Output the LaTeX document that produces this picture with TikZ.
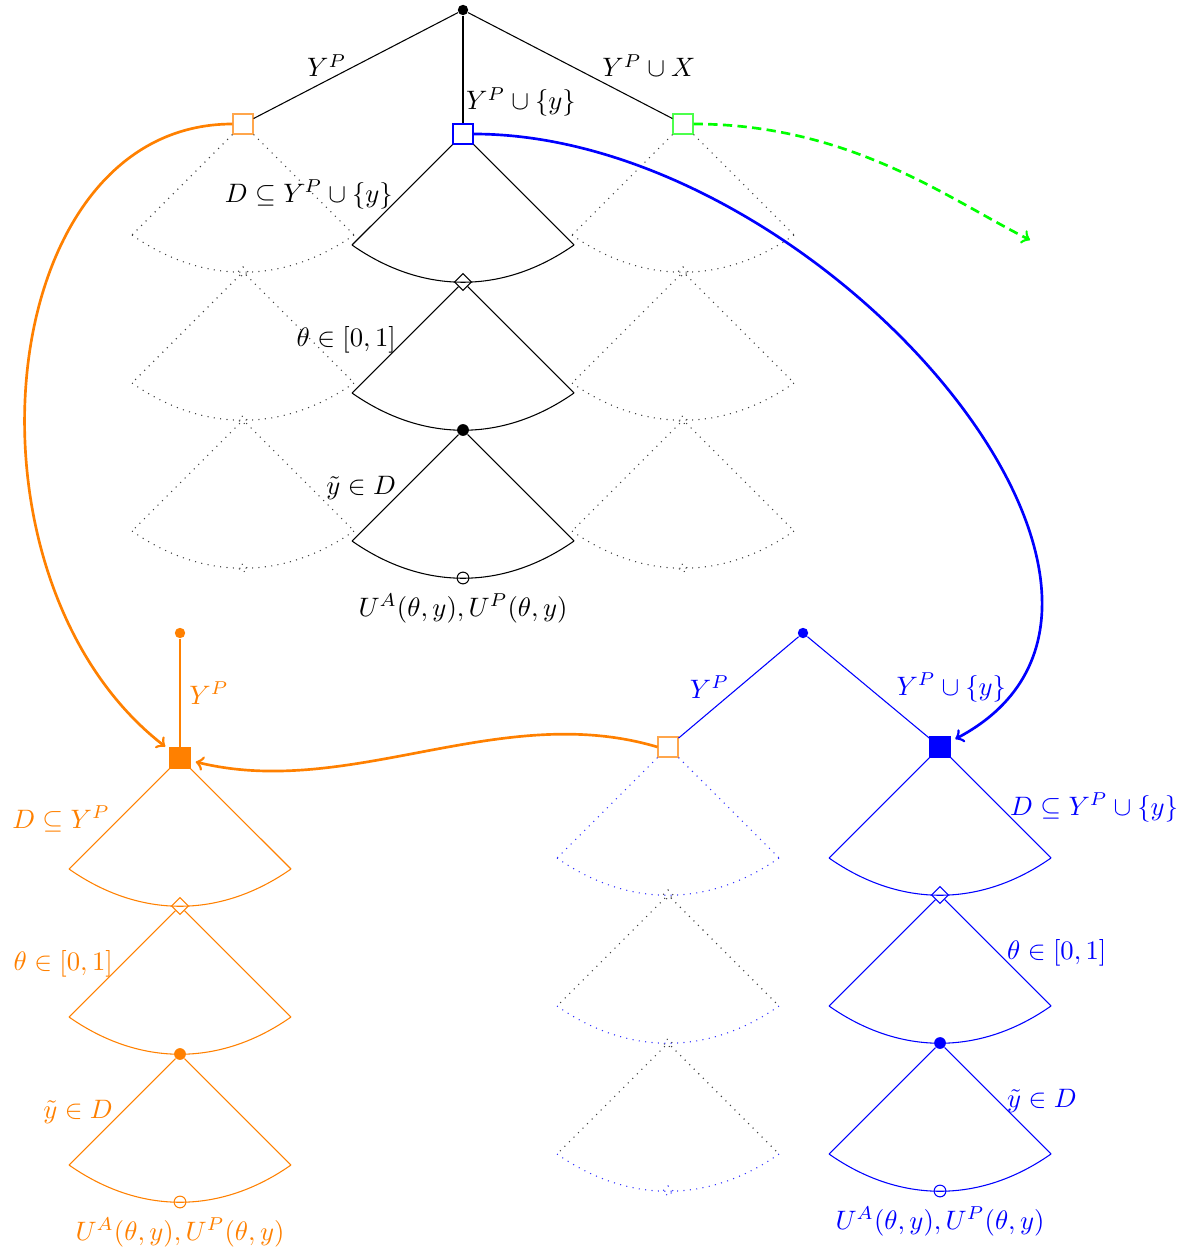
\documentclass[tikz,border=0pt]{standalone}
\usetikzlibrary{shapes.geometric}
\newcommand\myfan[5]{% side style, arc style, apex node, x, y
  \draw[#1] (#3) -- (#4-111,#5+111) (#3) -- (#4+111,#5+111);
  \draw[#2] (#4-111,#5+111) to[bend right=35] (#4+111,#5+111);}
\begin{document}
\begin{tikzpicture}[x=0.375pt,y=-0.375pt,
  sq/.style={rectangle,draw,inner sep=0pt,minimum size=7.5pt},
  dia/.style={diamond,draw,inner sep=0pt,minimum size=6.4pt},
  fdot/.style={circle,fill,inner sep=0pt,minimum size=4.4pt},
  odot/.style={circle,draw,inner sep=0pt,minimum size=4.4pt},
  rootdot/.style={circle,fill,inner sep=0pt,minimum size=3.9pt},
  ghost/.style={draw=black!75,dotted},
  bghost/.style={draw=blue!80,dotted},
  arr/.style={line width=1pt,->}]
\useasboundingbox (0,0) rectangle (1196,1254);
% ---------- top tree ----------
\node[rootdot] (r) at (463,10) {};
\node[sq,draw=orange!70] (o1) at (243,124) {};
\node[sq,draw=blue] (b1) at (463,134) {};
\node[sq,draw=green!70] (g1) at (683,124) {};
\draw (r) -- (o1) node[midway,left]{$Y^P$};
\draw (r) -- (b1) node[pos=0.8,anchor=west,inner sep=1pt]{$Y^P\cup\{y\}$};
\draw (r) -- (g1) node[midway,right=8.5pt]{$Y^P\cup X$};
% middle column
\node[dia] (b2) at (463,282) {};
\node[fdot] (b3) at (463,430) {};
\node[odot] (b4) at (463,578) {};
\node[below] (bu) at (b4.south) {$U^A(\theta,y),U^P(\theta,y)$};
\myfan{}{}{b1}{463}{134}
\myfan{}{}{b2}{463}{282}
\myfan{}{}{b3}{463}{430}
\path (b1) -- (352,245) node[midway,left] (bl1) {$D\subseteq Y^P\cup\{y\}$};
\path (b2) -- (352,393) node[midway,left] (bl2) {$\theta\in[0,1]$};
\path (b3) -- (352,541) node[midway,left] (bl3) {$\tilde y\in D$};
% ghost columns
\node[dia,ghost,minimum size=4pt] (o2) at (243,272) {};
\node[odot,ghost,minimum size=3pt] (o3) at (243,420) {};
\node[odot,ghost,minimum size=3pt] (o4) at (243,568) {};
\myfan{ghost}{ghost}{o1}{243}{124}
\myfan{ghost}{ghost}{o2}{243}{272}
\myfan{ghost}{ghost}{o3}{243}{420}
\node[dia,ghost,minimum size=4pt] (g2) at (683,272) {};
\node[odot,ghost,minimum size=3pt] (g3) at (683,420) {};
\node[odot,ghost,minimum size=3pt] (g4) at (683,568) {};
\myfan{ghost}{ghost}{g1}{683}{124}
\myfan{ghost}{ghost}{g2}{683}{272}
\myfan{ghost}{ghost}{g3}{683}{420}
% ---------- bottom-left orange tree ----------
\node[rootdot,orange] (lr) at (180,633) {};
\node[sq,draw=orange,fill=orange] (l1) at (180,758) {};
\draw[orange] (lr) -- (l1) node[midway,right]{$Y^P$};
\node[dia,orange] (l2) at (180,906) {};
\node[fdot,orange] (l3) at (180,1054) {};
\node[odot,orange] (l4) at (180,1202) {};
\node[below,orange] (lu) at (l4.south) {$U^A(\theta,y),U^P(\theta,y)$};
\myfan{orange}{orange}{l1}{180}{758}
\myfan{orange}{orange}{l2}{180}{906}
\myfan{orange}{orange}{l3}{180}{1054}
\path (l1) -- (69,869) node[midway,left,orange] (ll1) {$D\subseteq Y^P$};
\path (l2) -- (69,1017) node[midway,left,orange] (ll2) {$\theta\in[0,1]$};
\path (l3) -- (69,1165) node[midway,left,orange] (ll3) {$\tilde y\in D$};
% ---------- bottom-right blue tree ----------
\node[rootdot,blue] (rr) at (803,633) {};
\node[sq,draw=orange!70] (m1) at (668,747) {};
\node[sq,draw=blue,fill=blue] (n1) at (940,747) {};
\draw[blue] (rr) -- (m1) node[midway,left]{$Y^P$};
\draw[blue] (rr) -- (n1) node[midway,right=7pt]{$Y^P\cup\{y\}$};
\node[dia,blue] (n2) at (940,895) {};
\node[fdot,blue] (n3) at (940,1043) {};
\node[odot,blue] (n4) at (940,1191) {};
\node[below,blue] (nu) at (n4.south) {$U^A(\theta,y),U^P(\theta,y)$};
\myfan{blue}{blue}{n1}{940}{747}
\myfan{blue}{blue}{n2}{940}{895}
\myfan{blue}{blue}{n3}{940}{1043}
\path (n1) -- (1051,858) node[midway,right,blue] (nl1) {$D\subseteq Y^P\cup\{y\}$};
\path (n2) -- (1051,1006) node[midway,right,blue] (nl2) {$\theta\in[0,1]$};
\path (n3) -- (1051,1154) node[midway,right,blue] (nl3) {$\tilde y\in D$};
% ghost under orange square
\node[dia,ghost,minimum size=4pt] (m2) at (668,895) {};
\node[odot,ghost,minimum size=3pt] (m3) at (668,1043) {};
\node[dia,bghost,minimum size=4pt] (m4) at (668,1191) {};
\myfan{bghost}{bghost}{m1}{668}{747}
\myfan{ghost}{bghost}{m2}{668}{895}
\myfan{ghost}{bghost}{m3}{668}{1043}
% ---------- arrows ----------
\coordinate (gend) at (1030,240);
\draw[arr,orange,shorten >=2pt] (o1.west) .. controls (-10,124) and (-50,580) .. (l1);
\draw[arr,blue,shorten >=2pt] (b1.east) .. controls (820,134) and (1220,600) .. (n1);
\draw[arr,orange,shorten >=2pt] (m1.west) .. controls (500,700) and (350,800) .. (l1);
\draw[arr,green,dash pattern=on 3.5pt off 2pt] (g1.east) .. controls (850,124) and (950,200) .. (gend);
\end{tikzpicture}
\end{document}
